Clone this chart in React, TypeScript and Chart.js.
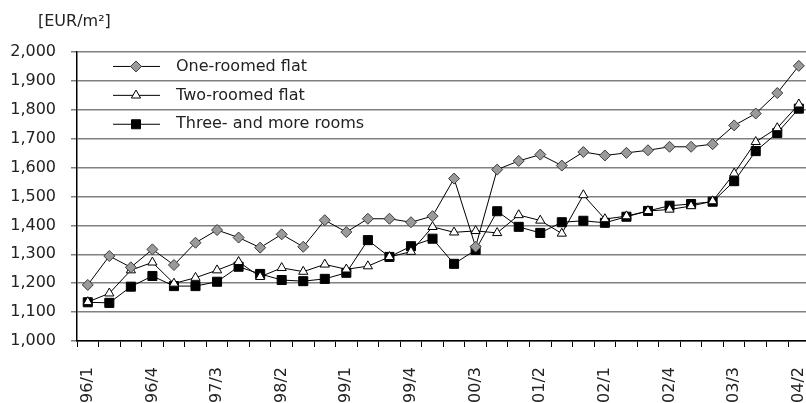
import { useEffect, useRef } from 'react';
import { Chart, registerables } from 'chart.js';

Chart.register(...registerables);

const quarters = [
  '96/1', '96/2', '96/3', '96/4',
  '97/1', '97/2', '97/3', '97/4',
  '98/1', '98/2', '98/3', '98/4',
  '99/1', '99/2', '99/3', '99/4',
  '00/1', '00/2', '00/3', '00/4',
  '01/1', '01/2', '01/3', '01/4',
  '02/1', '02/2', '02/3', '02/4',
  '03/1', '03/2', '03/3', '03/4',
  '04/1', '04/2',
];

const shownTicks = ['96/1', '96/4', '97/3', '98/2', '99/1', '99/4', '00/3', '01/2', '02/1', '02/4', '03/3', '04/2'];

const oneRoomed = [
  1194, 1294, 1255, 1317, 1263, 1340, 1384, 1358, 1323, 1369,
  1326, 1418, 1377, 1423, 1423, 1411, 1432, 1562, 1326, 1593,
  1623, 1645, 1607, 1654, 1642, 1651, 1660, 1672, 1672, 1681,
  1746, 1787, 1858, 1952,
];

const twoRoomed = [
  1135, 1165, 1245, 1272, 1199, 1219, 1245, 1274, 1222, 1253,
  1240, 1265, 1248, 1259, 1291, 1309, 1395, 1376, 1381, 1374,
  1436, 1417, 1372, 1505, 1422, 1432, 1450, 1455, 1467, 1484,
  1580, 1689, 1737, 1819,
];

const threeRooms = [
  1134, 1132, 1188, 1225, 1190, 1190, 1205, 1257, 1232, 1211,
  1207, 1215, 1236, 1349, 1291, 1328, 1354, 1267, 1315, 1449,
  1395, 1374, 1411, 1416, 1409, 1430, 1450, 1468, 1474, 1482,
  1553, 1657, 1720, 1804,
];

const seriesNames = ['One-roomed flat', 'Two-roomed flat', 'Three- and more rooms'];
const yTitle = '[EUR/m²]';

const FONT = '"DejaVu Sans", sans-serif';
const TEXT = '#222';

function drawMarker(ctx: CanvasRenderingContext2D, kind: number, x: number, y: number) {
  ctx.save();
  ctx.lineWidth = 1;
  ctx.beginPath();
  if (kind === 0) {
    const r = 5.5;
    ctx.moveTo(x - r, y);
    ctx.lineTo(x, y - r);
    ctx.lineTo(x + r, y);
    ctx.lineTo(x, y + r);
    ctx.closePath();
    ctx.fillStyle = '#9a9a9a';
    ctx.strokeStyle = '#3a3a3a';
  } else if (kind === 1) {
    const r = 5.3;
    ctx.moveTo(x, y - r);
    ctx.lineTo(x + r * 0.866, y + r / 2);
    ctx.lineTo(x - r * 0.866, y + r / 2);
    ctx.closePath();
    ctx.fillStyle = '#fff';
    ctx.strokeStyle = '#000';
  } else {
    const s = 4.5;
    ctx.rect(x - s, y - s, 2 * s, 2 * s);
    ctx.fillStyle = '#000';
    ctx.strokeStyle = '#000';
  }
  ctx.fill();
  ctx.stroke();
  ctx.restore();
}

const overlayPlugin = {
  id: 'overlay',
  afterDraw(chart: any) {
    const { ctx, chartArea: a } = chart;
    ctx.save();
    ctx.font = `16px ${FONT}`;
    ctx.fillStyle = TEXT;
    ctx.textBaseline = 'middle';
    ctx.textAlign = 'left';
    ctx.fillText(yTitle, a.left - 39, a.top - 30);
    const step = a.height / 10;
    seriesNames.forEach((name, k) => {
      const y = a.top + step * (k + 0.5);
      ctx.strokeStyle = '#000';
      ctx.lineWidth = 1;
      ctx.beginPath();
      ctx.moveTo(a.left + 36, y);
      ctx.lineTo(a.left + 83, y);
      ctx.stroke();
      drawMarker(ctx, k, a.left + 59, y);
      ctx.fillStyle = TEXT;
      ctx.fillText(name, a.left + 99, y);
    });
    ctx.restore();
  },
};

export default function App() {
  const canvasRef = useRef<HTMLCanvasElement | null>(null);

  useEffect(() => {
    if (!canvasRef.current) return;
    const chart = new Chart(canvasRef.current, {
      type: 'line',
      data: {
        labels: quarters,
        datasets: [
          {
            label: seriesNames[0],
            data: oneRoomed,
            borderColor: '#000',
            borderWidth: 1,
            pointStyle: 'rectRot',
            pointRadius: 5.5,
            pointBackgroundColor: '#9a9a9a',
            pointBorderColor: '#3a3a3a',
            pointBorderWidth: 1,
            tension: 0,
          },
          {
            label: seriesNames[1],
            data: twoRoomed,
            borderColor: '#000',
            borderWidth: 1,
            pointStyle: 'triangle',
            pointRadius: 5.3,
            pointBackgroundColor: '#fff',
            pointBorderColor: '#000',
            pointBorderWidth: 1,
            tension: 0,
          },
          {
            label: seriesNames[2],
            data: threeRooms,
            borderColor: '#000',
            borderWidth: 1,
            pointStyle: 'rect',
            pointRadius: 6.4,
            pointBackgroundColor: '#000',
            pointBorderColor: '#000',
            pointBorderWidth: 1,
            tension: 0,
          },
        ],
      },
      options: {
        animation: false,
        responsive: true,
        maintainAspectRatio: false,
        layout: { padding: { left: 10, top: 52, right: 0, bottom: 0 } },
        plugins: { legend: { display: false }, tooltip: { enabled: false } },
        scales: {
          x: {
            offset: true,
            grid: { offset: true, drawOnChartArea: false, drawTicks: true, tickLength: 6, color: '#000', lineWidth: 1 },
            border: { color: '#000', width: 1.5 },
            afterFit: (scale: any) => {
              scale.paddingLeft = 0;
              scale.paddingRight = 0;
              scale.height = 62;
            },
            ticks: {
              autoSkip: false,
              maxRotation: 90,
              minRotation: 90,
              padding: 20,
              color: TEXT,
              font: { family: FONT, size: 16 },
              callback: (_v: any, i: number) => (shownTicks.includes(quarters[i]) ? quarters[i] : ''),
            },
          },
          y: {
            min: 1000,
            max: 2000,
            grid: { color: '#808080', lineWidth: 1.5, tickLength: 6 },
            border: { color: '#000', width: 1.5 },
            afterFit: (scale: any) => {
              scale.width = 67;
            },
            ticks: {
              stepSize: 100,
              padding: 15,
              color: TEXT,
              font: { family: FONT, size: 16 },
              callback: (v: any) => Number(v).toLocaleString('en-US'),
            },
          },
        },
      },
      plugins: [overlayPlugin],
    });
    return () => chart.destroy();
  }, []);

  return (
    <div style={{ position: 'fixed', left: 0, top: 0, width: 806, height: 403, overflow: 'hidden', background: '#fff' }}>
      <div style={{ position: 'relative', width: 817, height: 403 }}>
        <canvas ref={canvasRef} />
      </div>
    </div>
  );
}
